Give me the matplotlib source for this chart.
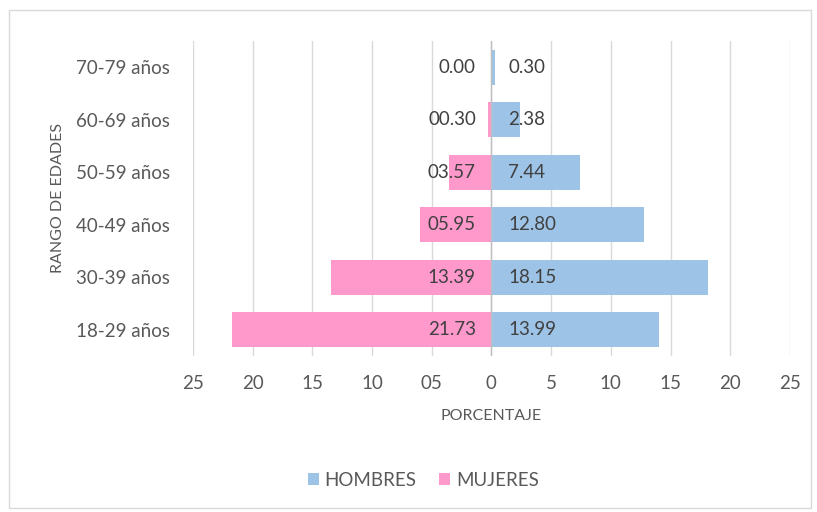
import numpy as np
import matplotlib.pyplot as plt
from matplotlib.patches import Rectangle

# data
grupos = ["18-29 años", "30-39 años", "40-49 años", "50-59 años", "60-69 años", "70-79 años"]
hombres = [13.99, 18.15, 12.80, 7.44, 2.38, 0.30]
mujeres = [21.73, 13.39, 5.95, 3.57, 0.30, 0.00]
etiq_mujeres = ["21.73", "13.39", "05.95", "03.57", "00.30", "0.00"]
ticks = [-25, -20, -15, -10, -5, 0, 5, 10, 15, 20, 25]
tick_labels = ["25", "20", "15", "10", "05", "0", "5", "10", "15", "20", "25"]

azul = "#9DC3E6"
rosa = "#FF99CC"
gris = "#595959"

plt.rcParams['font.family'] = ['Lato', 'DejaVu Sans']

fig = plt.figure(figsize=(8.17, 5.12), dpi=100)
fig.patches.append(Rectangle((9/817, 4/512), 802/817, 498/512, transform=fig.transFigure,
                             fill=False, edgecolor="#D9D9D9", linewidth=1))
ax = fig.add_axes([0.236, 0.305, 0.731, 0.615])

y = np.arange(len(grupos))
ax.barh(y, hombres, height=0.67, color=azul, label="HOMBRES", zorder=2)
ax.barh(y, [-m for m in mujeres], height=0.67, color=rosa, label="MUJERES", zorder=2)

# etiquetas pegadas al eje central
for i in range(len(grupos)):
    ax.text(1.4, y[i], f"{hombres[i]:.2f}", ha="left", va="center", fontsize=13.5, color="#404040", zorder=3)
    ax.text(-1.3, y[i], etiq_mujeres[i], ha="right", va="center", fontsize=13.5, color="#404040", zorder=3)

ax.set_xlim(-25, 25)
ax.set_ylim(-0.5, len(grupos) - 0.5)
ax.set_xticks(ticks)
ax.set_xticklabels(tick_labels)
ax.set_yticks(y)
ax.set_yticklabels(grupos)
ax.tick_params(axis="x", length=0, labelsize=13.5, labelcolor=gris, pad=14)
ax.tick_params(axis="y", length=0, labelsize=13.5, labelcolor=gris, pad=16.5)
ax.grid(axis="x", color="#D9D9D9", linewidth=1, zorder=0)
ax.axvline(0, color="#BFBFBF", linewidth=1, zorder=3)
for s in ax.spines.values():
    s.set_visible(False)

ax.set_xlabel("PORCENTAJE", fontsize=11.5, color=gris, labelpad=12)
ax.set_ylabel("RANGO DE EDADES", fontsize=11.5, color=gris, labelpad=8)

h, l = ax.get_legend_handles_labels()
fig.legend(h, l, loc="center", bbox_to_anchor=(0.518, 0.0625), ncol=2, frameon=False,
           fontsize=13.5, labelcolor=gris, handlelength=0.6, handleheight=0.6,
           handletextpad=0.3, columnspacing=1.2)

fig.savefig("out.png", dpi=100)
